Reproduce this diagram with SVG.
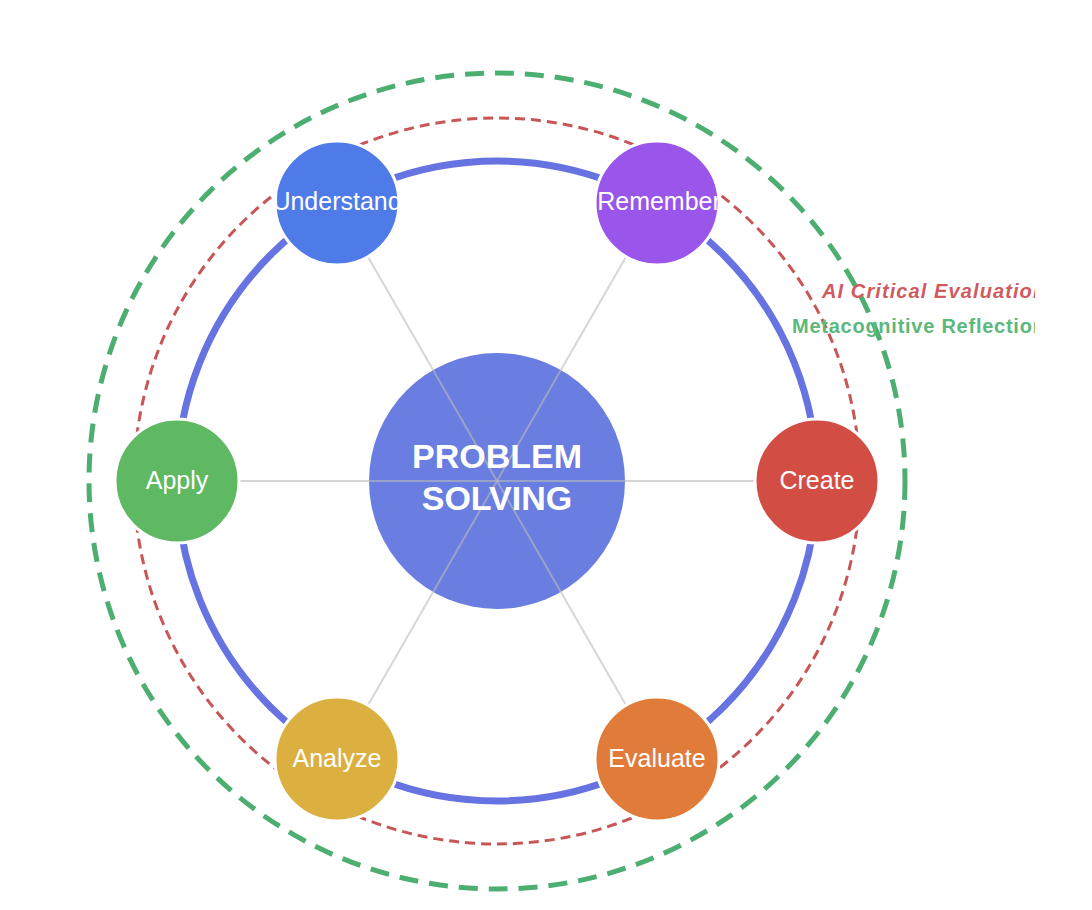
<svg xmlns="http://www.w3.org/2000/svg" width="1092" height="910" viewBox="0 0 1092 910">
<defs>
<style>
.node-label{font-family:"Liberation Sans",Arial,sans-serif;font-size:25px;fill:#ffffff;text-anchor:middle}
.node{stroke:#ffffff;stroke-width:3}
.spoke{stroke:#bbbbbb;stroke-width:2;stroke-opacity:0.6}
.side{font-family:"Liberation Sans",Arial,sans-serif;font-size:20px;font-weight:bold}
</style>
<clipPath id="cU"><circle cx="337" cy="203" r="62"/></clipPath>
<clipPath id="cR"><circle cx="657" cy="203" r="62"/></clipPath>
<clipPath id="cSide"><rect x="700" y="250" width="335" height="120"/></clipPath>
</defs>
<rect width="1092" height="910" fill="#ffffff"/>
<g id="rings">
<circle cx="497" cy="481" r="408" fill="none" stroke="#4dae72" stroke-width="5" stroke-dasharray="19 11"/>
<circle cx="497" cy="481" r="363" fill="none" stroke="#c85656" stroke-width="3" stroke-dasharray="10 6"/>
<circle cx="497" cy="481" r="320" fill="none" stroke="#6673e0" stroke-width="7"/>
</g>
<g id="center">
<circle cx="497" cy="481" r="128" fill="#6a7de0"/>
</g>
<g id="connectors">
<line class="spoke" x1="497" y1="481" x2="337" y2="203"/>
<line class="spoke" x1="497" y1="481" x2="657" y2="203"/>
<line class="spoke" x1="497" y1="481" x2="177" y2="481"/>
<line class="spoke" x1="497" y1="481" x2="817" y2="481"/>
<line class="spoke" x1="497" y1="481" x2="337" y2="759"/>
<line class="spoke" x1="497" y1="481" x2="657" y2="759"/>
</g>
<g id="center-label">
<text x="497" y="468" font-family="Liberation Sans,Arial,sans-serif" font-size="34" font-weight="bold" fill="#ffffff" text-anchor="middle">PROBLEM</text>
<text x="497" y="510" font-family="Liberation Sans,Arial,sans-serif" font-size="34" font-weight="bold" fill="#ffffff" text-anchor="middle">SOLVING</text>
</g>
<g id="understand">
<circle class="node" cx="337" cy="203" r="62" fill="#4f7be8"/>
<text class="node-label" x="337" y="210" clip-path="url(#cU)">Understand</text>
</g>
<g id="remember">
<circle class="node" cx="657" cy="203" r="62" fill="#9a55ea"/>
<text class="node-label" x="659" y="210" clip-path="url(#cR)">Remember</text>
</g>
<g id="apply">
<circle class="node" cx="177" cy="481" r="62" fill="#5fb963"/>
<text class="node-label" x="177" y="489">Apply</text>
</g>
<g id="create">
<circle class="node" cx="817" cy="481" r="62" fill="#d24d43"/>
<text class="node-label" x="817" y="489">Create</text>
</g>
<g id="analyze">
<circle class="node" cx="337" cy="759" r="62" fill="#dcb040"/>
<text class="node-label" x="337" y="767">Analyze</text>
</g>
<g id="evaluate">
<circle class="node" cx="657" cy="759" r="62" fill="#e07b3a"/>
<text class="node-label" x="657" y="767">Evaluate</text>
</g>
<g id="legend" clip-path="url(#cSide)">
<text class="side" x="822" y="298" fill="#cf5a5f" font-style="italic" letter-spacing="1.1">AI Critical Evaluation</text>
<text class="side" x="792" y="333" fill="#5cb87c" letter-spacing="0.75">Metacognitive Reflection</text>
</g>
</svg>
